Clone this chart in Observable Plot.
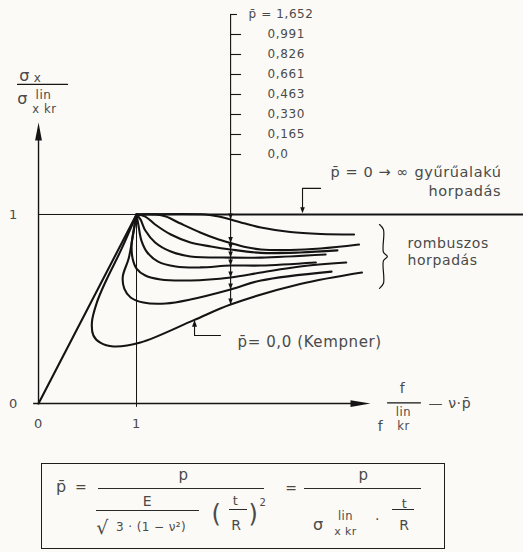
<!DOCTYPE html>
<html>
<head>
<meta charset="utf-8">
<script src="https://cdn.jsdelivr.net/npm/d3@7"></script>
<script src="https://cdn.jsdelivr.net/npm/@observablehq/plot@0.6"></script>
<style>
  html, body { margin: 0; padding: 0; background: #fbfaf6; }
  #figure { position: relative; width: 523px; height: 552px; overflow: hidden;
            font-family: "DejaVu Sans", sans-serif; color: #4a4a4a; }
  #figure svg { display: block; }
  #figure svg text { letter-spacing: 0.6px; }
  .formula { position: absolute; left: 41px; top: 463px; width: 402px; height: 84px;
             border: 1.6px solid #1e1e1e; }
  .formula span { position: absolute; transform: translate(-50%, -50%); white-space: nowrap;
                  line-height: 1; letter-spacing: 0.4px; }
  .formula b { position: absolute; height: 0; border-top: 1.3px solid #2a2a2a; }
</style>
</head>
<body>
<div id="figure">
  <div id="chart"></div>
  <div class="formula">
    <span style="left:19.4px;top:23.4px;font-size:16px">p&#772;</span>
    <span style="left:39px;top:23.4px;font-size:14px">=</span>
    <span style="left:141.4px;top:11.4px;font-size:15px">p</span>
    <b style="left:56.4px;width:166px;top:24.4px"></b>
    <span style="left:105.4px;top:37.4px;font-size:14px">E</span>
    <b style="left:54.4px;width:103px;top:46.4px"></b>
    <span style="left:60.4px;top:63.4px;font-size:19px">&#8730;</span>
    <span style="left:109px;top:63.4px;font-size:12px">3 · (1 − ν²)</span>
    <span style="left:174.4px;top:50.4px;font-size:24px">(</span>
    <span style="left:193.4px;top:36.4px;font-size:13px">t</span>
    <b style="left:187.4px;width:18px;top:45.4px"></b>
    <span style="left:194.4px;top:61.4px;font-size:14px">R</span>
    <span style="left:211.4px;top:50.4px;font-size:24px">)</span>
    <span style="left:221px;top:39.4px;font-size:10px">2</span>
    <span style="left:249.4px;top:24.4px;font-size:14px">=</span>
    <span style="left:321.4px;top:11.4px;font-size:15px">p</span>
    <b style="left:262.4px;width:117px;top:24.4px"></b>
    <span style="left:276.4px;top:61.4px;font-size:16px">σ</span>
    <span style="left:303.4px;top:53.4px;font-size:11.5px">lin</span>
    <span style="left:303.4px;top:67.4px;font-size:11px">x kr</span>
    <span style="left:335.4px;top:55.4px;font-size:14px">·</span>
    <span style="left:362.4px;top:39.4px;font-size:13px">t</span>
    <b style="left:350.4px;width:22px;top:45.4px"></b>
    <span style="left:362.4px;top:61.4px;font-size:14px">R</span>
  </div>
</div>
<script>
// Pressure parameter p̄ of each post-buckling path, listed from the top path down
const pBarValues = [1.652, 0.991, 0.826, 0.661, 0.463, 0.330, 0.165, 0.0];
const pBarLabels = ["p\u0304 = 1,652", "0,991", "0,826", "0,661", "0,463", "0,330", "0,165", "0,0"];

// Equilibrium paths as [f/f_kr^lin − ν·p̄ , σx/σx kr^lin]
const path1652 = [[1.00,1.000],[1.70,1.000],[1.81,0.992],[1.96,0.974],[2.11,0.952],[2.27,0.931],[2.57,0.907],[2.88,0.897],[3.22,0.894]];
const path0991 = [[1.00,1.000],[1.20,1.000],[1.30,0.989],[1.45,0.952],[1.65,0.905],[1.81,0.873],[1.96,0.849],[2.11,0.828],[2.27,0.815],[2.57,0.812],[2.88,0.820],[3.27,0.841]];
const path0826 = [[1.00,1.000],[1.09,0.989],[1.19,0.947],[1.35,0.894],[1.55,0.852],[1.76,0.831],[1.96,0.815],[2.27,0.797],[2.67,0.799],[3.05,0.810]];
const path0661 = [[1.00,1.000],[1.04,0.974],[1.09,0.915],[1.19,0.852],[1.35,0.804],[1.55,0.778],[1.96,0.772],[2.27,0.772],[2.93,0.788]];
const path0463 = [[1.00,1.000],[1.02,0.942],[1.05,0.862],[1.11,0.799],[1.22,0.751],[1.40,0.725],[1.65,0.720],[1.96,0.730],[2.27,0.730],[2.83,0.746]];
const path0330 = [[1.00,1.000],[0.97,0.915],[0.95,0.841],[0.96,0.767],[1.00,0.714],[1.09,0.677],[1.245,0.656],[1.55,0.651],[1.96,0.667],[2.27,0.693],[2.67,0.725],[3.14,0.746]];
const path0165 = [[1.00,1.000],[0.96,0.878],[0.92,0.767],[0.86,0.672],[0.875,0.608],[0.94,0.561],[1.07,0.534],[1.30,0.529],[1.55,0.550],[1.96,0.603],[2.27,0.651],[2.99,0.698]];
const path0000 = [[1.00,1.000],[0.84,0.810],[0.69,0.651],[0.595,0.534],[0.545,0.430],[0.56,0.360],[0.63,0.322],[0.765,0.302],[1.04,0.323],[1.58,0.440],[1.96,0.524],[2.67,0.632],[3.30,0.693]];

// Linear (pre-buckling) path and axis tick labels
const linearPath = [[0, 0], [1, 1]];
const xTicks = [0, 1];
const yTicks = [0, 1];

const paths = [path1652, path0991, path0826, path0661, path0463, path0330, path0165, path0000];
const pathRows = paths.flatMap((pts, i) => pts.map(([x, y]) => ({p: pBarValues[i], x, y})));

// ordinate of a path at abscissa x (last crossing, i.e. the right-hand branch)
function yAt(points, x) {
  for (let i = points.length - 1; i > 0; i--) {
    const [x0, y0] = points[i - 1], [x1, y1] = points[i];
    if ((x0 - x) * (x1 - x) <= 0 && x0 !== x1) return y0 + (y1 - y0) * (x - x0) / (x1 - x0);
  }
  return NaN;
}

const SX = 1.96;                       // abscissa of the p̄ read-off scale
const scaleTop = 2.058, scaleStep = 0.1058;
const scaleRows = pBarLabels.map((label, i) => ({
  label, y: scaleTop - i * scaleStep,
  x2: SX + (i === 0 ? 0.07 : 0.112),
  lx: i === 0 ? 2.143 : 2.337
}));
const scaleHits = paths.map(pts => ({x: SX, y: yAt(pts, SX)}));

const ink = "#141414", pen = "#4a4a4a";

// filled arrowheads with their tip at the anchor point
const head = pts => ({draw(ctx) {
  ctx.moveTo(pts[0][0], pts[0][1]);
  for (let i = 1; i < pts.length; i++) ctx.lineTo(pts[i][0], pts[i][1]);
  ctx.closePath();
}});
const axisHeadUp = head([[0, 0], [3.4, 18], [-3.4, 18]]);
const axisHeadRight = head([[0, 0], [-20, 3.4], [-20, -3.4]]);
const tipDown = head([[0, 0], [2.3, -6], [-2.3, -6]]);
const tipUp = head([[0, 0], [2.5, 7], [-2.5, 7]]);

const arrowAt = (x, y, symbol) =>
  Plot.dot([{x, y}], {x: "x", y: "y", symbol, r: 3, fill: ink, stroke: null});
const note = (str, x, y, o = {}) =>
  Plot.text([str], {x, y, text: d => d, fill: pen, fontSize: 14, textAnchor: "start", ...o});
const seg = (pts, w = 1.1) =>
  Plot.line(pts, {x: d => d[0], y: d => d[1], stroke: ink, strokeWidth: w});

const kempnerLabelX = 1.592;
const kempnerLabelY = yAt(path0000, kempnerLabelX);

const chart = Plot.plot({
  width: 523,
  height: 445,
  margin: 0,
  x: {domain: [-0.388, 4.949], axis: null},
  y: {domain: [-0.222, 2.132], axis: null},
  style: {fontFamily: "DejaVu Sans, sans-serif", background: "transparent", overflow: "visible"},
  marks: [
    // reference lines at f = f_kr^lin and σ = σ_kr^lin
    Plot.ruleX([1], {y1: -0.02, y2: 1, stroke: ink, strokeWidth: 1}),
    Plot.ruleY([1], {x1: 0, x2: 1, stroke: ink, strokeWidth: 1}),

    // axes with arrowheads
    Plot.ruleY([0], {x1: -0.05, x2: 3.30, stroke: ink, strokeWidth: 1.4}),
    Plot.ruleX([0], {y1: 0, y2: 1.45, stroke: ink, strokeWidth: 1.4}),
    arrowAt(3.388, 0, axisHeadRight),
    arrowAt(0, 1.487, axisHeadUp),

    // tick labels
    Plot.text(xTicks, {x: d => d, y: -0.106, text: d => String(d), fill: pen, fontSize: 13}),
    Plot.text(yTicks, {x: -0.255, y: d => d, text: d => String(d), fill: pen, fontSize: 13}),

    // ring-shaped buckling: σ stays at the linear critical value
    Plot.ruleY([1], {x1: 1, x2: 4.95, stroke: ink, strokeWidth: 2.2}),

    // linear path and the diamond-pattern post-buckling paths
    Plot.line(linearPath, {x: d => d[0], y: d => d[1], stroke: ink, strokeWidth: 2.1}),
    Plot.line(pathRows, {x: "x", y: "y", z: "p", curve: "catmull-rom", stroke: ink, strokeWidth: 2.1}),

    // p̄ read-off scale
    Plot.ruleX([SX], {y1: scaleHits[scaleHits.length - 1].y, y2: scaleTop, stroke: ink, strokeWidth: 1.1}),
    Plot.ruleY(scaleRows, {y: "y", x1: SX, x2: "x2", stroke: ink, strokeWidth: 1.1}),
    Plot.text(scaleRows, {x: "lx", y: "y", text: "label", textAnchor: "start", fill: pen, fontSize: 12}),
    Plot.dot(scaleHits, {x: "x", y: "y", symbol: tipDown, r: 3, fill: ink, stroke: null}),

    // ring-buckling annotation
    note("p\u0304 = 0 → ∞ gyűrűalakú", 2.98, 1.222, {fontSize: 14.5}),
    note("horpadás", 3.98, 1.125, {fontSize: 14.5}),
    seg([[2.878, 1.138], [2.694, 1.138], [2.694, 1.03]]),
    arrowAt(2.694, 1.006, tipDown),

    // diamond-pattern annotation with brace
    Plot.line([[3.48, 0.947], [3.52, 0.92], [3.52, 0.80], [3.56, 0.778], [3.52, 0.756], [3.52, 0.636], [3.48, 0.609]],
      {x: d => d[0], y: d => d[1], curve: "catmull-rom", stroke: ink, strokeWidth: 1.2}),
    note("rombuszos", 3.765, 0.847),
    note("horpadás", 3.765, 0.757),

    // Kempner path annotation
    arrowAt(kempnerLabelX, kempnerLabelY, tipUp),
    seg([[kempnerLabelX, kempnerLabelY - 0.03], [kempnerLabelX, 0.36], [1.857, 0.36]]),
    note("p\u0304= 0,0 (Kempner)", 2.031, 0.323, {fontSize: 15}),

    // ordinate title σx / σx kr^lin
    note("σ", -0.143, 1.735, {textAnchor: "middle", fontSize: 16}),
    note("x", -0.010, 1.722, {textAnchor: "middle", fontSize: 12}),
    seg([[-0.214, 1.688], [0.296, 1.688]], 1.2),
    note("σ", -0.163, 1.614, {textAnchor: "middle", fontSize: 16}),
    note("lin", 0.051, 1.630, {textAnchor: "middle", fontSize: 12}),
    note("x kr", 0.061, 1.556, {textAnchor: "middle", fontSize: 11.5}),

    // abscissa title f / f_kr^lin − ν·p̄
    note("f", 3.714, 0.080, {textAnchor: "middle", fontSize: 14}),
    seg([[3.561, 0.004], [3.898, 0.004]], 1.2),
    note("f", 3.490, -0.122, {textAnchor: "middle", fontSize: 14}),
    note("lin", 3.724, -0.048, {textAnchor: "middle", fontSize: 11.5}),
    note("kr", 3.724, -0.122, {textAnchor: "middle", fontSize: 11.5}),
    note("— ν·p\u0304", 3.98, 0.0, {fontSize: 14})
  ]
});

document.getElementById("chart").append(chart);
</script>
</body>
</html>
